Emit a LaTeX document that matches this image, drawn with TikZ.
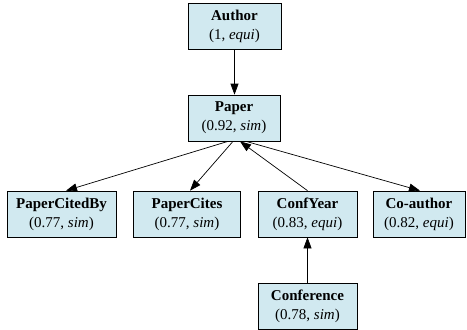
\documentclass[tikz,border=0pt]{standalone}
\usepackage{fontspec}
\setmainfont{Liberation Serif}
\newfontfamily\boxfont{Liberation Serif}
\usetikzlibrary{arrows.meta}
\definecolor{boxfill}{RGB}{209,233,240}
\begin{document}
\begin{tikzpicture}[x=1pt,y=-1pt,
 box/.style={draw=black, line width=0.7pt, fill=boxfill, minimum height=46pt, inner sep=0pt, align=center, font=\boxfont\fontsize{15}{19}\selectfont},
 arr/.style={-{Triangle[length=11pt,width=8pt]}, line width=0.7pt}]
\useasboundingbox (0,0) rectangle (467,330);
\node[box, minimum width=93pt] (author) at (234.5,26) {\textbf{Author}\\(1, \textit{equi})};
\node[box, minimum width=92pt] (paper) at (234,118) {\textbf{Paper}\\(0.92, \textit{sim})};
\node[box, minimum width=109pt] (citedby) at (61.5,214) {\textbf{PaperCitedBy}\\(0.77, \textit{sim})};
\node[box, minimum width=107pt] (cites) at (187,214) {\textbf{PaperCites}\\(0.77, \textit{sim})};
\node[box, minimum width=99pt] (confyear) at (307.5,214) {\textbf{ConfYear}\\(0.83, \textit{equi})};
\node[box, minimum width=92pt] (coauthor) at (419,214) {\textbf{Co-author}\\(0.82, \textit{equi})};
\node[box, minimum width=99pt] (conf) at (307.5,306) {\textbf{Conference}\\(0.78, \textit{sim})};
\draw[arr] (author.south) -- (author.south |- paper.north);
\draw[arr] ([xshift=-6pt]paper.south) -- ([xshift=4.5pt]citedby.north);
\draw[arr] ([xshift=-1pt]paper.south) -- ([xshift=3pt]cites.north);
\draw[arr] (confyear.north) -- ([xshift=6pt]paper.south);
\draw[arr] ([xshift=12pt]paper.south) -- ([xshift=1pt]coauthor.north);
\draw[arr] (conf) -- (confyear);
\end{tikzpicture}
\end{document}
